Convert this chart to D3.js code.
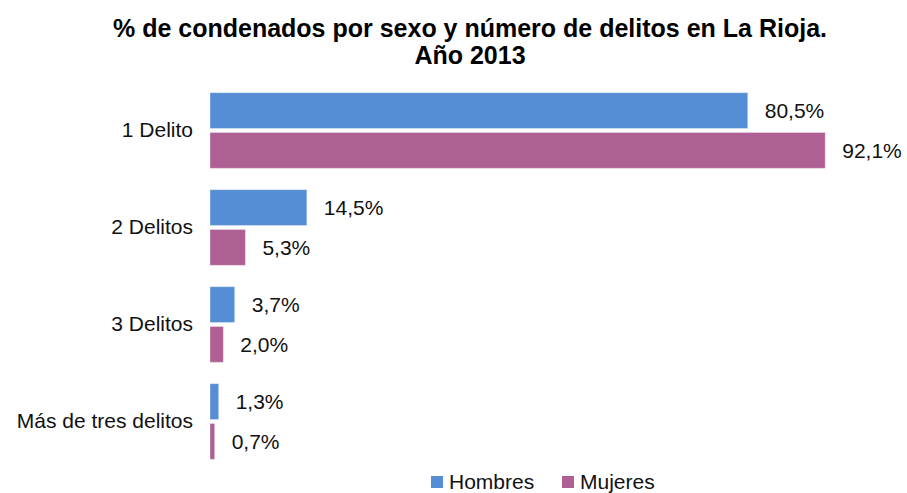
<!DOCTYPE html>
<html>
<head>
<meta charset="utf-8">
<script src="https://cdn.jsdelivr.net/npm/d3@7"></script>
<style>
  body { margin: 0; background: #fff; }
  svg { display: block; font-family: "Liberation Sans", Arial, Helvetica, sans-serif; }
</style>
</head>
<body>
<div id="chart"></div>
<script>
// % condenados por sexo y número de delitos — La Rioja 2013
const categories = ["1 Delito", "2 Delitos", "3 Delitos", "Más de tres delitos"];
const seriesNames = ["Hombres", "Mujeres"];
const hombres = [80.5, 14.5, 3.7, 1.3];
const mujeres = [92.1, 5.3, 2.0, 0.7];
const titleLines = ["% de condenados por sexo y número de delitos en La Rioja.", "Año 2013"];

const W = 907, H = 493;
const colors = { Hombres: "#558ed5", Mujeres: "#ae5f93" };
const fs = 21;

const svg = d3.select("#chart").append("svg")
  .attr("width", W).attr("height", H);

// title
svg.append("text")
  .attr("x", 470).attr("y", 37)
  .attr("text-anchor", "middle")
  .attr("font-size", 25).attr("font-weight", "bold")
  .selectAll("tspan")
  .data(titleLines)
  .join("tspan")
  .attr("x", 470)
  .attr("dy", (d, i) => i === 0 ? 0 : 27)
  .text(d => d);

const rows = categories.map((c, i) => ({ cat: c, Hombres: hombres[i], Mujeres: mujeres[i] }));

const x = d3.scaleLinear().domain([0, 100]).range([210, 878]);
const y = d3.scaleBand().domain(categories).range([82, 470]).paddingInner(0.22).paddingOuter(0.11);
const ySub = d3.scaleBand().domain(seriesNames).range([0, y.bandwidth()]).paddingInner(0.1);

const groups = svg.selectAll("g.cat")
  .data(rows)
  .join("g")
  .attr("class", "cat")
  .attr("transform", d => `translate(0,${y(d.cat)})`);

groups.selectAll("rect")
  .data(d => seriesNames.map(k => ({ key: k, value: d[k] })))
  .join("rect")
  .attr("x", x(0))
  .attr("y", d => ySub(d.key))
  .attr("width", d => x(d.value) - x(0))
  .attr("height", ySub.bandwidth())
  .attr("fill", d => colors[d.key])
  .attr("stroke", "#ffffff")
  .attr("stroke-opacity", 0.35);

groups.selectAll("text.val")
  .data(d => seriesNames.map(k => ({ key: k, value: d[k] })))
  .join("text")
  .attr("class", "val")
  .attr("x", d => x(d.value) + 17)
  .attr("y", d => ySub(d.key) + ySub.bandwidth() / 2)
  .attr("dy", "0.36em")
  .attr("font-size", fs)
  .attr("fill", "#111")
  .text(d => d3.format(".1f")(d.value).replace(".", ",") + "%");

// category axis (labels only)
const yAxis = svg.append("g")
  .attr("transform", `translate(${x(0)},0)`)
  .call(d3.axisLeft(y).tickSize(0).tickPadding(17));
yAxis.select(".domain").remove();
yAxis.selectAll("text")
  .attr("font-size", fs)
  .attr("font-family", "\"Liberation Sans\", Arial, Helvetica, sans-serif")
  .attr("fill", "#111");

// legend
const legend = svg.append("g").attr("transform", "translate(431,481)");
const legX = [0, 131];
seriesNames.forEach((k, i) => {
  const row = legend.append("g").attr("transform", `translate(${legX[i]},0)`);
  row.append("rect").attr("x", 0).attr("y", -5).attr("width", 12).attr("height", 12).attr("fill", colors[k]);
  row.append("text").attr("x", 18).attr("y", 0).attr("dy", "0.36em")
    .attr("font-size", fs).attr("fill", "#111").text(k);
});
</script>
</body>
</html>
